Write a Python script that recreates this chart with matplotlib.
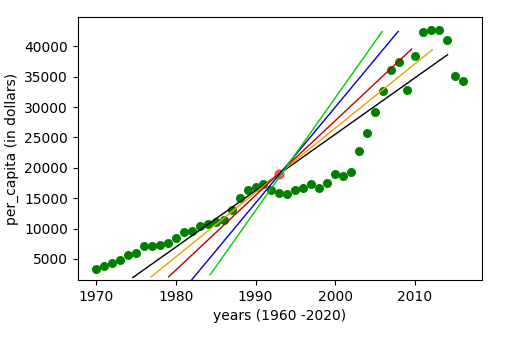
import numpy as np
import matplotlib
matplotlib.use('Agg')
import matplotlib.pyplot as plt

# per capita income data
years = [1970, 1971, 1972, 1973, 1974, 1975, 1976, 1977, 1978, 1979,
         1980, 1981, 1982, 1983, 1984, 1985, 1986, 1987, 1988, 1989,
         1990, 1991, 1992, 1993, 1994, 1995, 1996, 1997, 1998, 1999,
         2000, 2001, 2002, 2003, 2004, 2005, 2006, 2007, 2008, 2009,
         2010, 2011, 2012, 2013, 2014, 2015, 2016]
income = [3399, 3768, 4251, 4805, 5577, 5998, 7062, 7100, 7248, 7603,
          8356, 9434, 9619, 10417, 10790, 11019, 11483, 12975, 15080, 16427,
          16839, 17266, 16412, 15876, 15756, 16369, 16700, 17311, 16623, 17581,
          18987, 18601, 19232, 22739, 25719, 29198, 32738, 36145, 37447, 32755,
          38421, 42335, 42665, 42677, 41040, 35175, 34229]

# mean point
mean_x = 1993
mean_y = 18920

# fitted lines (start / end points)
line_colors = ['black', '#e6a400', '#c00000', '#0000cc', '#00cc00']
line_x0 = [1974.6, 1976.9, 1979.1, 1981.9, 1984.3]
line_y0 = [1920, 2040, 2040, 1400, 2370]
line_x1 = [2014.1, 2012.2, 2009.6, 2007.9, 2005.9]
line_y1 = [38630, 39460, 39570, 42470, 42470]

fig, ax = plt.subplots(figsize=(5.12, 3.4), dpi=100)
fig.subplots_adjust(left=0.152, right=0.941, top=0.95, bottom=0.176)

ax.scatter(years, income, color='green', s=30, zorder=1)
ax.scatter([mean_x], [mean_y], color='red', alpha=0.6, s=40, zorder=1)

for c, x0, y0, x1, y1 in zip(line_colors, line_x0, line_y0, line_x1, line_y1):
    ax.plot([x0, x1], [y0, y1], color=c, lw=1, zorder=2)

ax.set_xlim(1967.7, 2018.4)
ax.set_ylim(1490, 44850)
ax.set_xticks([1970, 1980, 1990, 2000, 2010])
ax.set_yticks(np.arange(5000, 40001, 5000))
ax.set_xlabel('years (1960 -2020)')
ax.set_ylabel('per_capita (in dollars)')

fig.savefig('out.png')
